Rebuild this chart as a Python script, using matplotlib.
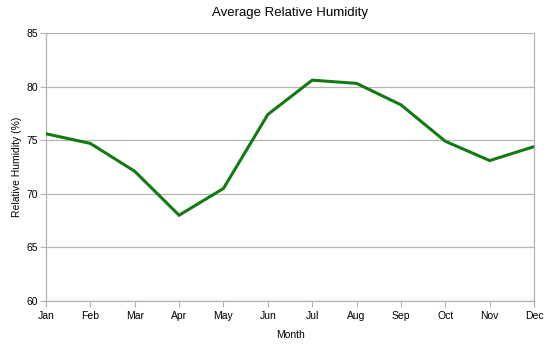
import matplotlib
matplotlib.use('Agg')
import matplotlib.pyplot as plt

months = ['Jan', 'Feb', 'Mar', 'Apr', 'May', 'Jun',
          'Jul', 'Aug', 'Sep', 'Oct', 'Nov', 'Dec']
humidity = [75.6, 74.7, 72.1, 68.0, 70.5, 77.4,
            80.6, 80.3, 78.3, 74.9, 73.1, 74.4]
yticks = [60, 65, 70, 75, 80, 85]

plt.rcParams['font.family'] = ['Liberation Sans', 'DejaVu Sans']

fig = plt.figure(figsize=(5.5, 3.5), dpi=100)
ax = fig.add_axes([0.0836, 0.14, 0.8874, 0.7657])

x = list(range(len(months)))
ax.plot(x, humidity, color='#137a13', linewidth=2.2, solid_joinstyle='miter', zorder=3)

ax.set_xlim(0, len(months) - 1)
ax.set_ylim(60, 85)
ax.set_xticks(x)
ax.set_xticklabels(months)
ax.set_yticks(yticks)

ax.grid(axis='y', color='#b3b3b3', linewidth=0.9)
ax.set_axisbelow(True)
for side in ['left', 'bottom', 'right']:
    ax.spines[side].set_color('#b3b3b3')
    ax.spines[side].set_linewidth(0.9)
ax.spines['top'].set_visible(False)

ax.tick_params(axis='x', direction='out', length=4, color='#b3b3b3',
               labelsize=7.5, pad=3)
ax.tick_params(axis='y', direction='out', length=4, color='#b3b3b3',
               labelsize=7.5, pad=2)

ax.set_title('Average Relative Humidity', fontsize=9.5, pad=12)
ax.set_xlabel('Month', fontsize=7.5, labelpad=7)
ax.set_ylabel('Relative Humidity (%)', fontsize=7.5, labelpad=3)

fig.savefig('out.png', dpi=100)
